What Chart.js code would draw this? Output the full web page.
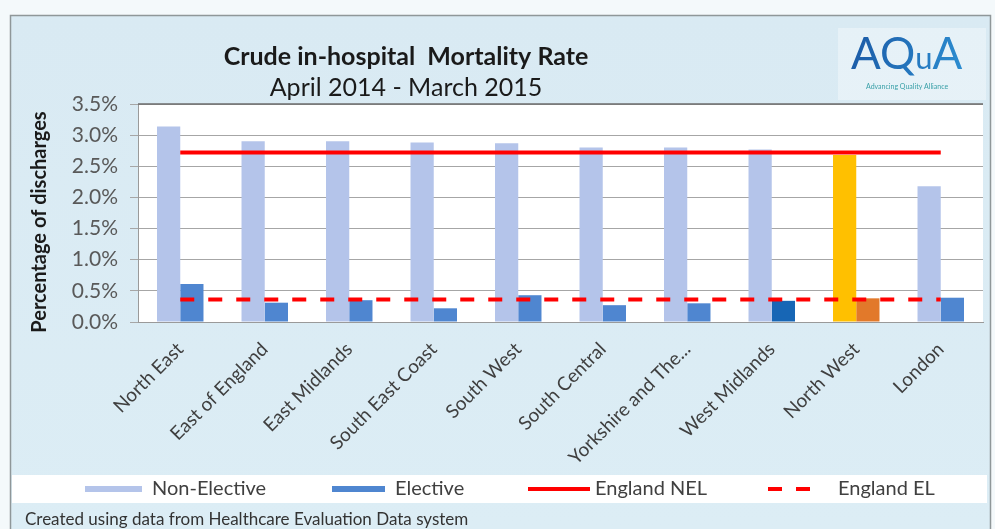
<!DOCTYPE html>
<html>
<head>
<meta charset="utf-8">
<title>Crude in-hospital Mortality Rate</title>
<script src="https://cdn.jsdelivr.net/npm/chart.js@4"></script>
<style>
  html, body { margin: 0; padding: 0; background: #f4f9fb; }
  #wrap { position: relative; width: 995px; height: 529px; }
</style>
</head>
<body>
<div id="wrap"><canvas id="mortalityChart" width="995" height="529"></canvas></div>
<script>
// Regions (x categories)
const regions = ['North East', 'East of England', 'East Midlands', 'South East Coast', 'South West',
    'South Central', 'Yorkshire and The...', 'West Midlands', 'North West', 'London'];

// Crude mortality, % of discharges
const nonElective = [3.14, 2.90, 2.90, 2.88, 2.87, 2.80, 2.80, 2.77, 2.68, 2.18];
const elective = [0.61, 0.31, 0.35, 0.22, 0.43, 0.27, 0.30, 0.34, 0.38, 0.39];

// England averages
const englandNEL = 2.72;
const englandEL = 0.36;

// Y axis range
const yMin = 0;
const yMax = 3.5;
const yStep = 0.5;

const FONT = 'Lato, "Open Sans", sans-serif';
const TEXT = '#404040';

// North West is highlighted, West Midlands elective is a darker blue
const nelColors = regions.map(r => r === 'North West' ? '#ffc000' : '#b4c4ea');
const elColors = regions.map(r => {
    if (r === 'North West') return '#e2792a';
    if (r === 'West Midlands') return '#1766b5';
    return '#4f86d0';
});

// Frame, header band, logo, y title, legend and footnote
const decorPlugin = {
    id: 'decor',
    beforeDraw(chart) {
        const ctx = chart.ctx;
        const area = chart.chartArea;
        ctx.save();
        // page haze + chart frame
        ctx.fillStyle = '#f4f9fb';
        ctx.fillRect(0, 0, 995, 529);
        const bg = ctx.createLinearGradient(0, 15, 0, 529);
        bg.addColorStop(0, '#d9eaf3');
        bg.addColorStop(1, '#dcedf5');
        ctx.fillStyle = bg;
        ctx.fillRect(10, 15, 980, 520);
        ctx.strokeStyle = '#8f9799';
        ctx.lineWidth = 1.5;
        ctx.strokeRect(10.5, 15.5, 980, 530);

        // plot background
        ctx.fillStyle = '#ffffff';
        ctx.fillRect(area.left, area.top, area.right - area.left, area.bottom - area.top);

        // logo backing
        ctx.fillStyle = 'rgba(255,255,255,0.35)';
        ctx.fillRect(838, 28, 148, 72);

        // legend band
        ctx.fillStyle = '#ffffff';
        ctx.fillRect(12, 475, 975, 28);
        ctx.restore();
    },
    afterDraw(chart) {
        const ctx = chart.ctx;
        const area = chart.chartArea;
        ctx.save();

        // header line across the top of the plot
        ctx.strokeStyle = '#6d6d6d';
        ctx.lineWidth = 1.5;
        ctx.beginPath();
        ctx.moveTo(area.left, area.top);
        ctx.lineTo(area.right, area.top);
        ctx.stroke();

        // title
        ctx.fillStyle = '#1a1a1a';
        ctx.textAlign = 'center';
        ctx.textBaseline = 'middle';
        ctx.font = 'bold 25px ' + FONT;
        ctx.fillText('Crude in-hospital  Mortality Rate', 406, 57);
        ctx.font = '25px ' + FONT;
        ctx.fillText('April 2014 - March 2015', 406, 88);

        // logo
        const lg = ctx.createLinearGradient(852, 38, 967, 70);
        lg.addColorStop(0, '#1b5aa6');
        lg.addColorStop(1, '#2d8fd2');
        ctx.fillStyle = lg;
        ctx.textAlign = 'left';
        ctx.textBaseline = 'alphabetic';
        ctx.font = '44px ' + FONT;
        ctx.fillText('AQ', 851, 69);
        let w = ctx.measureText('AQ').width;
        ctx.font = '31px ' + FONT;
        ctx.fillText('u', 851 + w, 69);
        w += ctx.measureText('u').width;
        ctx.font = '44px ' + FONT;
        ctx.fillText('A', 851 + w, 69);
        ctx.fillStyle = '#3aa0a8';
        ctx.font = '7px ' + FONT;
        ctx.fillText('Advancing Quality Alliance', 866, 89);

        // y axis title
        ctx.save();
        ctx.translate(40, 222);
        ctx.rotate(-Math.PI / 2);
        ctx.textAlign = 'center';
        ctx.textBaseline = 'middle';
        ctx.fillStyle = '#1a1a1a';
        ctx.font = 'bold 20px ' + FONT;
        ctx.fillText('Percentage of discharges', 0, 0);
        ctx.restore();

        // legend
        const ly = 489;
        ctx.font = '20px ' + FONT;
        ctx.textBaseline = 'middle';
        ctx.textAlign = 'left';
        ctx.fillStyle = '#b4c4ea';
        ctx.fillRect(85, ly - 3, 57, 6);
        ctx.fillStyle = '#4f86d0';
        ctx.fillRect(332, ly - 3, 53, 6);
        ctx.strokeStyle = '#ff0000';
        ctx.lineWidth = 4;
        ctx.beginPath();
        ctx.moveTo(528, ly);
        ctx.lineTo(590, ly);
        ctx.stroke();
        ctx.setLineDash([14, 14]);
        ctx.beginPath();
        ctx.moveTo(768, ly);
        ctx.lineTo(824, ly);
        ctx.stroke();
        ctx.setLineDash([]);
        ctx.fillStyle = TEXT;
        ctx.fillText('Non-Elective', 152, ly);
        ctx.fillText('Elective', 395, ly);
        ctx.fillText('England NEL', 595, ly);
        ctx.fillText('England EL', 838, ly);

        // footnote
        ctx.fillStyle = '#333333';
        ctx.font = '17px ' + FONT;
        ctx.fillText('Created using data from Healthcare Evaluation Data system', 25, 520);
        ctx.restore();
    }
};

function buildChart() {
    const ctx = document.getElementById('mortalityChart').getContext('2d');
    return new Chart(ctx, {
        type: 'bar',
        data: {
            labels: regions,
            datasets: [
                {
                    type: 'line',
                    label: 'England NEL',
                    data: regions.map(() => englandNEL),
                    borderColor: '#ff0000',
                    borderWidth: 4,
                    pointRadius: 0,
                    order: 0
                },
                {
                    type: 'line',
                    label: 'England EL',
                    data: regions.map(() => englandEL),
                    borderColor: '#ff0000',
                    borderWidth: 4,
                    borderDash: [14, 14],
                    pointRadius: 0,
                    order: 0
                },
                {
                    label: 'Non-Elective',
                    data: nonElective,
                    backgroundColor: nelColors,
                    categoryPercentage: 0.55,
                    barPercentage: 1.0,
                    order: 1
                },
                {
                    label: 'Elective',
                    data: elective,
                    backgroundColor: elColors,
                    categoryPercentage: 0.55,
                    barPercentage: 1.0,
                    order: 1
                }
            ]
        },
        options: {
            responsive: false,
            animation: false,
            layout: { padding: { left: 0, top: 104, right: 12, bottom: 64 } },
            plugins: {
                legend: { display: false },
                title: { display: false },
                tooltip: { enabled: false }
            },
            scales: {
                x: {
                    afterFit: scale => { scale.height = 143; },
                    grid: { display: false },
                    border: { display: true, color: '#9a9a9a', width: 1 },
                    ticks: {
                        autoSkip: false,
                        minRotation: 45,
                        maxRotation: 45,
                        padding: 8,
                        color: TEXT,
                        font: { family: FONT, size: 19 }
                    }
                },
                y: {
                    min: yMin,
                    max: yMax,
                    afterFit: scale => { scale.width = 138; },
                    grid: { color: '#a6a6a6', lineWidth: 1, tickLength: 8 },
                    border: { display: true, color: '#9a9a9a', width: 1 },
                    ticks: {
                        stepSize: yStep,
                        padding: 12,
                        color: '#595959',
                        font: { family: FONT, size: 21 },
                        callback: v => v.toFixed(1) + '%'
                    }
                }
            }
        },
        plugins: [decorPlugin]
    });
}

buildChart();
</script>
</body>
</html>
